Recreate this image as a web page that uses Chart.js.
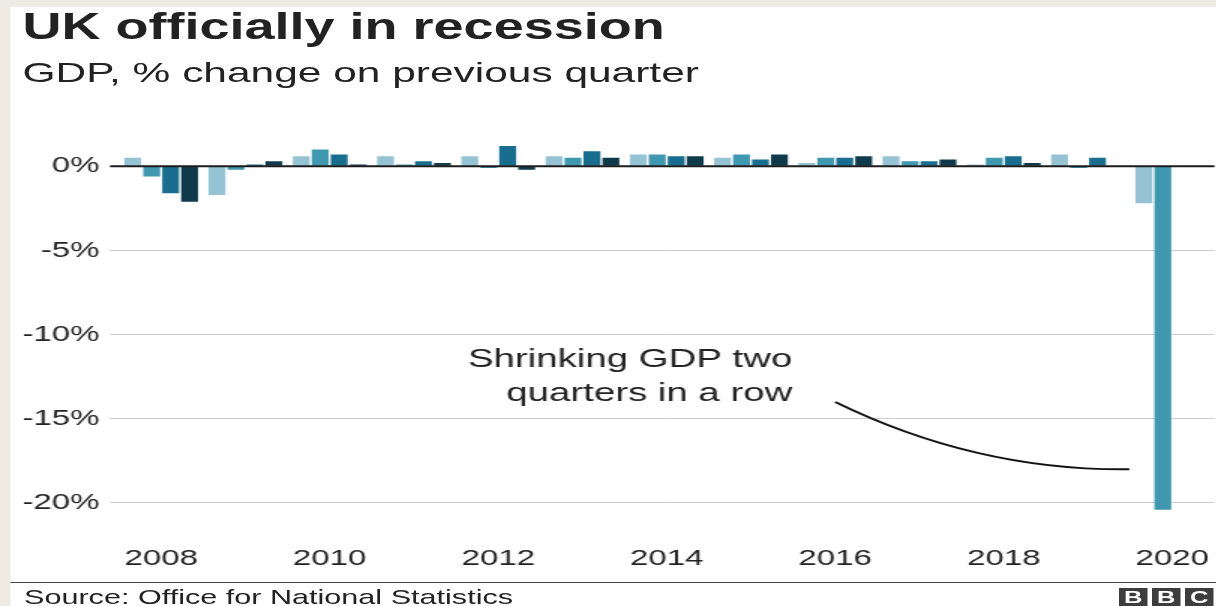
<!DOCTYPE html>
<html lang="en">
<head>
    <meta charset="UTF-8">
    <title>UK officially in recession</title>
    <script src="https://cdn.jsdelivr.net/npm/chart.js"></script>
    <style>
        html, body { margin: 0; padding: 0; width: 1216px; height: 606px; overflow: hidden; background: #ffffff; }
        /* the reference is a horizontally stretched picture, so the whole card is laid out narrow and stretched */
        #card {
            position: absolute; left: 0; top: 0;
            width: 811px; height: 606px;
            transform: scaleX(1.5); transform-origin: 0 0;
            background: #eeebe4;
            font-family: "Liberation Sans", Arial, sans-serif;
            color: #222;
        }
        #paper { position: absolute; left: 7px; top: 7px; right: -10px; bottom: 0; background: #ffffff; }
        #title { position: absolute; left: 15px; top: 9px; font-size: 36px; line-height: 36px; font-weight: bold; white-space: nowrap; }
        #subtitle { position: absolute; left: 15px; top: 58px; font-size: 28.3px; line-height: 28px; white-space: nowrap; }
        #chartBox { position: absolute; left: 0; top: 103.5px; width: 815px; height: 477px; }
        #rule { position: absolute; left: 7px; top: 582px; width: 820px; height: 1px; background: #444; }
        #source { position: absolute; left: 16px; top: 587px; font-size: 20.4px; line-height: 20px; white-space: nowrap; }
        #bbc { position: absolute; left: 746px; top: 588px; display: flex; gap: 3px; }
        #bbc span { display: block; width: 19px; height: 20px; background: #3d3d3d; color: #fff; font-weight: bold; font-size: 17px; line-height: 20px; text-align: center; }
    </style>
</head>
<body>
<div id="card">
    <div id="paper"></div>
    <div id="title">UK officially in recession</div>
    <div id="subtitle">GDP, % change on previous quarter</div>
    <div id="chartBox"><canvas id="gdpChart"></canvas></div>
    <div id="rule"></div>
    <div id="source">Source: Office for National Statistics</div>
    <div id="bbc"><span>B</span><span>B</span><span>C</span></div>
</div>
<script>
    // GDP growth, % change on previous quarter
    const years = ['2008', '2009', '2010', '2011', '2012', '2013', '2014', '2015', '2016', '2017', '2018', '2019', '2020'];
    const q1 = [0.5, -1.7, 0.6, 0.6, 0.6, 0.6, 0.7, 0.5, 0.2, 0.6, 0.1, 0.7, -2.2];
    const q2 = [-0.6, -0.2, 1.0, 0.1, -0.1, 0.5, 0.7, 0.7, 0.5, 0.3, 0.5, -0.1, -20.4];
    const q3 = [-1.6, 0.1, 0.7, 0.3, 1.2, 0.9, 0.6, 0.4, 0.5, 0.3, 0.6, 0.5, null];
    const q4 = [-2.1, 0.3, 0.1, 0.2, -0.2, 0.5, 0.6, 0.7, 0.6, 0.4, 0.2, 0.0, null];
    const quarterNames = ['Q1', 'Q2', 'Q3', 'Q4'];
    const quarterColours = ['#95c3d4', '#3f97b0', '#196d8e', '#0f3a4b'];
    const noteLines = ['Shrinking GDP two', 'quarters in a row'];

    const font = '"Liberation Sans", Arial, sans-serif';

    // zero line on top of the bars, plus the note and its curved pointer
    const overlay = {
        id: 'overlay',
        afterDatasetsDraw(chart) {
            const { ctx, chartArea, scales: { x, y } } = chart;
            ctx.save();
            const y0 = y.getPixelForValue(0);
            ctx.strokeStyle = '#1c1c1c';
            ctx.lineWidth = 2;
            ctx.beginPath();
            ctx.moveTo(chartArea.left - 6, y0);
            ctx.lineTo(chartArea.right, y0);
            ctx.stroke();

            ctx.font = '25.6px ' + font;
            ctx.fillStyle = '#222';
            ctx.textAlign = 'right';
            ctx.textBaseline = 'middle';
            ctx.fillText(noteLines[0], x.getPixelForValue(7.49), y.getPixelForValue(-11.5));
            ctx.fillText(noteLines[1], x.getPixelForValue(7.49), y.getPixelForValue(-13.5));

            ctx.lineWidth = 2;
            ctx.strokeStyle = '#111';
            ctx.beginPath();
            ctx.moveTo(x.getPixelForValue(8.0), y.getPixelForValue(-14));
            ctx.quadraticCurveTo(x.getPixelForValue(9.68), y.getPixelForValue(-18.1),
                                 x.getPixelForValue(11.49), y.getPixelForValue(-18));
            ctx.stroke();
            ctx.restore();
        }
    };

    const series = [q1, q2, q3, q4];
    const ctx = document.getElementById('gdpChart').getContext('2d');
    new Chart(ctx, {
        type: 'bar',
        data: {
            labels: years,
            datasets: series.map((values, i) => ({
                label: quarterNames[i],
                data: values,
                backgroundColor: quarterColours[i],
                borderWidth: 0,
                categoryPercentage: 0.9,
                barPercentage: 0.89
            }))
        },
        options: {
            responsive: true,
            maintainAspectRatio: false,
            animation: false,
            layout: { padding: { left: 8, top: 20, right: 0, bottom: 0 } },
            plugins: {
                legend: { display: false },
                tooltip: { enabled: false }
            },
            scales: {
                x: {
                    grid: { display: false, drawTicks: false },
                    border: { display: false },
                    ticks: {
                        autoSkip: false,
                        maxRotation: 0,
                        padding: 9,
                        color: '#222',
                        font: { family: font, size: 22 },
                        callback: (v, i) => (i % 2 === 0 ? years[i] : '')
                    }
                },
                y: {
                    min: -22,
                    max: 2.5,
                    grid: { color: '#cccccc', lineWidth: 1, tickLength: 6 },
                    border: { display: false },
                    ticks: {
                        stepSize: 5,
                        includeBounds: false,
                        padding: 7,
                        color: '#222',
                        font: { family: font, size: 22 },
                        callback: v => v + '%'
                    }
                }
            }
        },
        plugins: [overlay]
    });
</script>
</body>
</html>
